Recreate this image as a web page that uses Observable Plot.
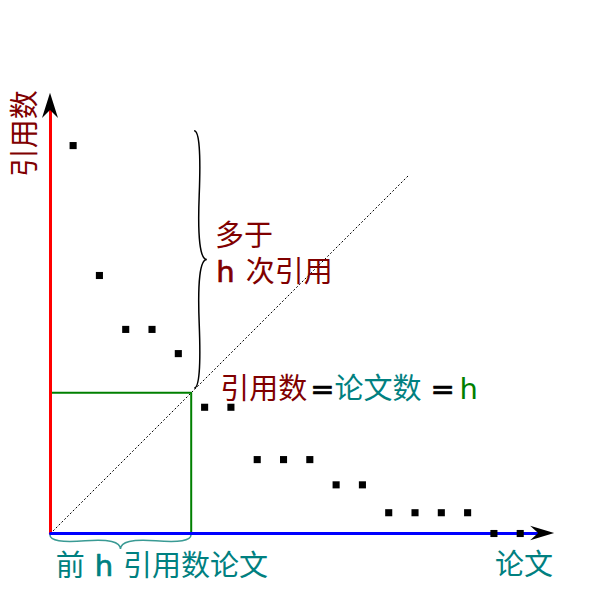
<!DOCTYPE html>
<html><head><meta charset="utf-8">
<script src="https://cdn.jsdelivr.net/npm/d3@7"></script>
<script src="https://cdn.jsdelivr.net/npm/@observablehq/plot@0.6"></script>
<style>body{margin:0;background:#fff}#chart{width:600px;height:600px}</style>
</head><body><div id="chart"></div>
<script>
// Paper rank positions (x, in paper units) and citation counts (y, in citation units)
const paperPos  = [0.86,1.86,2.86,3.86,4.86,5.86,6.86,7.86,8.86,9.86,10.86,11.86,12.86,13.86,14.86,15.86,16.86,17.86];
const citations = [14.75,9.81,7.76,7.76,6.84,4.8,4.8,2.81,2.81,2.81,1.85,1.85,0.79,0.79,0.79,0.79,0,0];
const hValue = 5.35;
const diagonalEnd = 13.65;
const xAxisEnd = 18.56, xArrowTip = 19.17;
const yAxisEnd = 16.08, yArrowTip = 16.74;

// Annotation texts and anchors (data units)
const yTitle = {text: "引用数", x: -0.93, y: 15.2};
const xTitle = {text: "论文", x: 16.9, y: -1.22};
const braceLabelA = [{text: "多于", x: 6.25, y: 11.29}];
const braceLabelB = [{text: "h", x: 6.3, y: 9.92}, {text: "次引用", x: 7.42, y: 9.92}];
const eqParts = [
  {text: "引用数", x: 6.45, y: 5.46},
  {text: "=", x: 9.88, y: 5.46},
  {text: "论文数", x: 10.8, y: 5.46},
  {text: "=", x: 14.45, y: 5.46},
  {text: "h", x: 15.55, y: 5.46}
];
const bottomParts = [
  {text: "前", x: 0.2, y: -1.25},
  {text: "h", x: 1.68, y: -1.25},
  {text: "引用数论文", x: 2.76, y: -1.25}
];
// Braces: [x1,y1,x2,y2] in data units
const rightBrace = [5.48, 5.51, 5.48, 15.29];
const bottomBrace = [0, -0.08, 5.36, -0.08];

const points = paperPos.map((x, i) => ({x, y: citations[i]}));
const DR = "#800000", TEAL = "#008080", GRN = "#008000";
const CJK = "'Noto Sans CJK SC', sans-serif";
const LAT = "'DejaVu Sans', sans-serif";

const txt = (d, fill, family, extra = {}) => Plot.text(d, {
  x: "x", y: "y", text: "text", fill, fontSize: 29, fontFamily: family,
  textAnchor: "start", lineAnchor: "middle", ...extra
});
const semi = c => ({stroke: c, strokeWidth: 0.7});

const plot = Plot.plot({
  width: 600, height: 600,
  style: {background: "#fff", overflow: "visible"},
  x: {domain: [0, 20], range: [50, 576], axis: null},
  y: {domain: [0, 18], range: [533, 59.6], axis: null},
  marks: [
    Plot.line([{x: 0, y: 0}, {x: diagonalEnd, y: diagonalEnd}], {x: "x", y: "y", stroke: "#000", strokeWidth: 1, strokeDasharray: "1.2,2.8"}),
    Plot.line([{x: 0, y: hValue}, {x: hValue, y: hValue}, {x: hValue, y: 0}], {x: "x", y: "y", stroke: GRN, strokeWidth: 2}),
    Plot.line([{x: 0, y: 0}, {x: 0, y: yAxisEnd}], {x: "x", y: "y", stroke: "#ff0000", strokeWidth: 3}),
    Plot.line([{x: 0, y: 0}, {x: xAxisEnd, y: 0}], {x: "x", y: "y", stroke: "#0000ff", strokeWidth: 3}),
    Plot.dot(points, {x: "x", y: "y", symbol: "square", r: 4, fill: "#000", stroke: null}),
    Plot.text([yTitle], {x: "x", y: "y", text: "text", rotate: -90, fill: DR, fontSize: 29, fontFamily: CJK, textAnchor: "middle", lineAnchor: "middle"}),
    txt([xTitle], TEAL, CJK),
    txt(braceLabelA, DR, CJK),
    txt([braceLabelB[0]], DR, LAT, semi(DR)),
    txt([braceLabelB[1]], DR, CJK),
    txt([eqParts[0]], DR, CJK),
    txt([eqParts[1], eqParts[3]], "#000", LAT, semi("#000")),
    txt([eqParts[2]], TEAL, CJK),
    txt([eqParts[4]], GRN, LAT),
    txt([bottomParts[0], bottomParts[2]], TEAL, CJK),
    txt([bottomParts[1]], TEAL, LAT, semi(TEAL))
  ]
});

// Extra shapes drawn through the plot's own scales
const sx = plot.scale("x"), sy = plot.scale("y");
const X = v => sx.apply(v), Y = v => sy.apply(v);
const svg = d3.select(plot);

function brace(x1, y1, x2, y2, w, q) {
  let dx = x1 - x2, dy = y1 - y2;
  const len = Math.hypot(dx, dy); dx /= len; dy /= len;
  const qx1 = x1 + q*w*dy, qy1 = y1 - q*w*dx;
  const qx2 = (x1 - .25*len*dx) + (1-q)*w*dy, qy2 = (y1 - .25*len*dy) - (1-q)*w*dx;
  const tx1 = (x1 - .5*len*dx) + w*dy, ty1 = (y1 - .5*len*dy) - w*dx;
  const qx3 = x2 + q*w*dy, qy3 = y2 - q*w*dx;
  const qx4 = (x1 - .75*len*dx) + (1-q)*w*dy, qy4 = (y1 - .75*len*dy) - (1-q)*w*dx;
  return `M${x1},${y1}Q${qx1},${qy1} ${qx2},${qy2}T${tx1},${ty1}M${x2},${y2}Q${qx3},${qy3} ${qx4},${qy4}T${tx1},${ty1}`;
}
svg.append("path")
  .attr("d", brace(X(rightBrace[0]), Y(rightBrace[1]), X(rightBrace[2]), Y(rightBrace[3]), 12.7, 0.6))
  .attr("fill", "none").attr("stroke", "#000").attr("stroke-width", 1.5);
svg.append("path")
  .attr("d", brace(X(bottomBrace[0]), Y(bottomBrace[1]), X(bottomBrace[2]), Y(bottomBrace[3]), 14, 0.6))
  .attr("fill", "none").attr("stroke", "#3a9a94").attr("stroke-width", 1.5);

// arrowheads
const ox = X(0), oy = Y(0);
const yt = Y(yArrowTip), yn = Y(yAxisEnd);
svg.append("path")
  .attr("d", `M${ox},${yt}L${ox-8},${yn+8}L${ox},${yn}L${ox+8},${yn+8}Z`)
  .attr("fill", "#000");
const xt = X(xArrowTip), xn = X(xAxisEnd);
svg.append("path")
  .attr("d", `M${xt},${oy}L${xn-8},${oy-7.3}L${xn},${oy}L${xn-8},${oy+7.3}Z`)
  .attr("fill", "#000");

document.getElementById("chart").appendChild(plot);
</script>
</body></html>
